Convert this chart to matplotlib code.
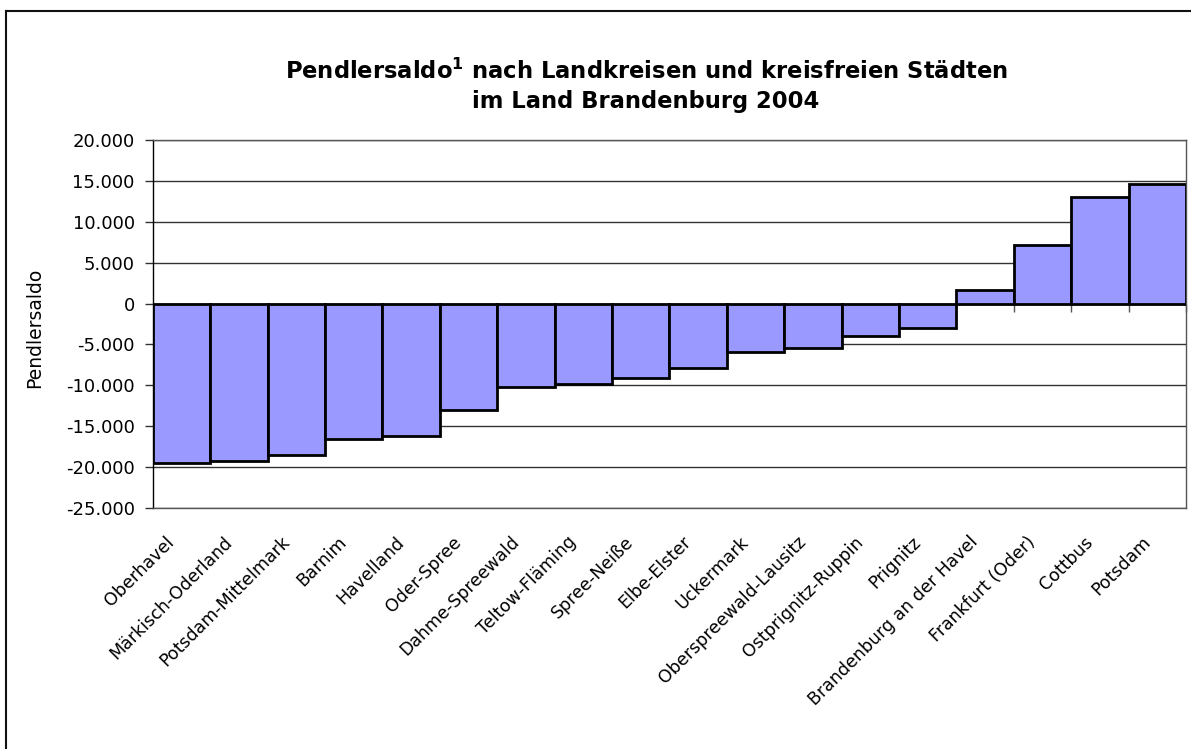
import matplotlib
matplotlib.use("Agg")
import matplotlib.pyplot as plt
from matplotlib.lines import Line2D
from matplotlib.ticker import FuncFormatter, FixedLocator
from matplotlib.transforms import ScaledTranslation

plt.rcParams['font.family'] = ['DejaVu Sans']
plt.rcParams['mathtext.fontset'] = 'dejavusans'

categories = ["Oberhavel", "Märkisch-Oderland", "Potsdam-Mittelmark", "Barnim",
              "Havelland", "Oder-Spree", "Dahme-Spreewald", "Teltow-Fläming",
              "Spree-Neiße", "Elbe-Elster", "Uckermark", "Oberspreewald-Lausitz",
              "Ostprignitz-Ruppin", "Prignitz", "Brandenburg an der Havel",
              "Frankfurt (Oder)", "Cottbus", "Potsdam"]
values = [-19470, -19270, -18490, -16620, -16170, -13030, -10260, -9860,
          -9160, -7820, -5910, -5460, -3990, -2970, 1710, 7170, 13080, 14580]
yticks = [20000, 15000, 10000, 5000, 0, -5000, -10000, -15000, -20000, -25000]

title = r"Pendlersaldo$^\mathbf{1}$ nach Landkreisen und kreisfreien Städten" + "\nim Land Brandenburg 2004"
ylabel = "Pendlersaldo"

W, H = 1191, 749
fig = plt.figure(figsize=(W / 100, H / 100), dpi=100)
ax = fig.add_axes([152.7 / W, 1 - 508 / H, (1186 - 152.7) / W, (508 - 140) / H])

x = list(range(len(categories)))
ax.bar(x, values, width=1.0, color="#9999FF", edgecolor="black", linewidth=2.0, zorder=3)

ax.set_xlim(-0.5, len(categories) - 0.5)
ax.set_ylim(-25000, 20000)
ax.set_yticks(yticks)
ax.yaxis.set_major_formatter(FuncFormatter(lambda v, p: f"{int(v):,}".replace(",", ".")))
ax.grid(axis="y", color="#333333", linewidth=1.0, zorder=0)
ax.tick_params(axis="y", direction="out", length=6, width=1, color="#333333",
               labelsize=13, pad=7)

ax.set_xticks(x)
ax.set_xticklabels(categories, rotation=45, ha="right", va="top",
                   rotation_mode="anchor", fontsize=12.5)
ax.tick_params(axis="x", length=0, pad=18)
shift = ScaledTranslation(-16 / 100, 0, fig.dpi_scale_trans)
for lbl in ax.get_xticklabels():
    lbl.set_transform(lbl.get_transform() + shift)

ax.set_ylabel(ylabel, fontsize=13.5)
ax.yaxis.set_label_coords((44 - 152.7) / (1186 - 152.7), 0.49)

for s in ["top", "right", "bottom"]:
    ax.spines[s].set_color("#555555")
    ax.spines[s].set_linewidth(1.0)
ax.spines["left"].set_color("black")
ax.spines["left"].set_linewidth(1.0)

# category axis located at zero with boundary tick marks
zero_frac = (0 - (-25000)) / (20000 - (-25000))
sec = ax.secondary_xaxis(zero_frac)
sec.xaxis.set_major_locator(FixedLocator([i + 0.5 for i in x]))
sec.tick_params(axis="x", direction="out", length=6, width=1, color="#555555",
                labelbottom=False, labeltop=False, bottom=True, top=False)
sec.spines["bottom"].set_color("black")
sec.spines["bottom"].set_linewidth(2.0)
sec.spines["top"].set_visible(False)
sec.xaxis.set_ticks_position("bottom")
sec.set_xticklabels([])

fig.text(646 / W, 1 - 86 / H, title, ha="center", va="center", fontsize=16.3,
         fontweight="bold", linespacing=1.3)

# chart area border (left and top visible in the crop)
fig.add_artist(Line2D([6 / W, 6 / W], [0, 1 - 11 / H], color="#111111", lw=1.5))
fig.add_artist(Line2D([6 / W, 1], [1 - 11 / H, 1 - 11 / H], color="#111111", lw=1.5))

fig.savefig("out.png", dpi=100)
